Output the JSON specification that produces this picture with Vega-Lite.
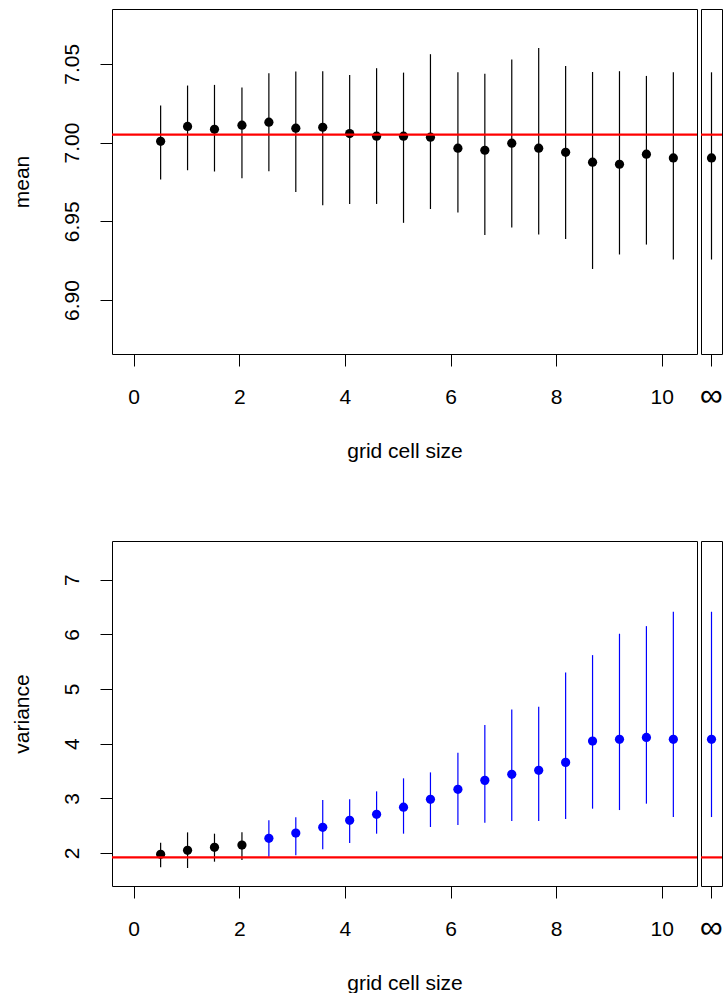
{
  "$schema": "https://vega.github.io/schema/vega-lite/v6.json",
  "padding": {"left": 10, "top": 8, "right": 0, "bottom": 0},
  "background": "white",
  "config": {
    "font": "Liberation Sans",
    "view": {"stroke": "black", "strokeWidth": 1},
    "axis": {
      "grid": false,
      "domain": false,
      "ticks": true,
      "tickColor": "black",
      "tickSize": 12,
      "tickWidth": 1,
      "labelColor": "black",
      "labelFontSize": 21,
      "labelFont": "Liberation Sans",
      "titleColor": "black",
      "titleFontSize": 21,
      "titleFont": "Liberation Sans",
      "titleFontWeight": "normal"
    }
  },
  "datasets": {
    "mean_by_size": [
      {"size": 0.51, "est": 7.0008, "lo": 6.9765, "hi": 7.0235},
      {"size": 1.02, "est": 7.0102, "lo": 6.9824, "hi": 7.0362},
      {"size": 1.53, "est": 7.0084, "lo": 6.9816, "hi": 7.0366},
      {"size": 2.05, "est": 7.011, "lo": 6.9773, "hi": 7.0349},
      {"size": 2.56, "est": 7.0129, "lo": 6.9818, "hi": 7.044},
      {"size": 3.07, "est": 7.0091, "lo": 6.9686, "hi": 7.0451},
      {"size": 3.58, "est": 7.0097, "lo": 6.9602, "hi": 7.0453},
      {"size": 4.09, "est": 7.0057, "lo": 6.961, "hi": 7.0429},
      {"size": 4.6, "est": 7.004, "lo": 6.961, "hi": 7.0472},
      {"size": 5.11, "est": 7.004, "lo": 6.949, "hi": 7.0444},
      {"size": 5.62, "est": 7.0034, "lo": 6.9578, "hi": 7.0561},
      {"size": 6.14, "est": 6.9964, "lo": 6.9555, "hi": 7.0446},
      {"size": 6.65, "est": 6.9951, "lo": 6.9413, "hi": 7.0436},
      {"size": 7.16, "est": 6.9996, "lo": 6.946, "hi": 7.0527},
      {"size": 7.67, "est": 6.9964, "lo": 6.9416, "hi": 7.0601},
      {"size": 8.18, "est": 6.9938, "lo": 6.9388, "hi": 7.0486},
      {"size": 8.69, "est": 6.9875, "lo": 6.9197, "hi": 7.0448},
      {"size": 9.2, "est": 6.9862, "lo": 6.9289, "hi": 7.0453},
      {"size": 9.71, "est": 6.9926, "lo": 6.9352, "hi": 7.0423},
      {"size": 10.22, "est": 6.9902, "lo": 6.9257, "hi": 7.0446}
    ],
    "mean_unbinned": [
      {"size": "∞", "est": 6.9902, "lo": 6.9257, "hi": 7.0446}
    ],
    "mean_truth": [{"value": 7.005}],
    "variance_by_size": [
      {"size": 0.51, "est": 1.976, "lo": 1.739, "hi": 2.19, "excludes_truth": "no"},
      {"size": 1.02, "est": 2.049, "lo": 1.726, "hi": 2.378, "excludes_truth": "no"},
      {"size": 1.53, "est": 2.104, "lo": 1.842, "hi": 2.354, "excludes_truth": "no"},
      {"size": 2.05, "est": 2.146, "lo": 1.872, "hi": 2.378, "excludes_truth": "no"},
      {"size": 2.56, "est": 2.269, "lo": 1.933, "hi": 2.598, "excludes_truth": "yes"},
      {"size": 3.07, "est": 2.366, "lo": 1.958, "hi": 2.653, "excludes_truth": "yes"},
      {"size": 3.58, "est": 2.47, "lo": 2.068, "hi": 2.97, "excludes_truth": "yes"},
      {"size": 4.09, "est": 2.598, "lo": 2.183, "hi": 2.982, "excludes_truth": "yes"},
      {"size": 4.6, "est": 2.708, "lo": 2.354, "hi": 3.128, "excludes_truth": "yes"},
      {"size": 5.11, "est": 2.838, "lo": 2.354, "hi": 3.366, "excludes_truth": "yes"},
      {"size": 5.62, "est": 2.982, "lo": 2.476, "hi": 3.475, "excludes_truth": "yes"},
      {"size": 6.14, "est": 3.165, "lo": 2.512, "hi": 3.835, "excludes_truth": "yes"},
      {"size": 6.65, "est": 3.329, "lo": 2.555, "hi": 4.34, "excludes_truth": "yes"},
      {"size": 7.16, "est": 3.439, "lo": 2.585, "hi": 4.627, "excludes_truth": "yes"},
      {"size": 7.67, "est": 3.512, "lo": 2.585, "hi": 4.676, "excludes_truth": "yes"},
      {"size": 8.18, "est": 3.658, "lo": 2.622, "hi": 5.303, "excludes_truth": "yes"},
      {"size": 8.69, "est": 4.048, "lo": 2.811, "hi": 5.62, "excludes_truth": "yes"},
      {"size": 9.2, "est": 4.079, "lo": 2.786, "hi": 6.011, "excludes_truth": "yes"},
      {"size": 9.71, "est": 4.115, "lo": 2.903, "hi": 6.15, "excludes_truth": "yes"},
      {"size": 10.22, "est": 4.079, "lo": 2.658, "hi": 6.413, "excludes_truth": "yes"}
    ],
    "variance_unbinned": [
      {"size": "∞", "est": 4.079, "lo": 2.658, "hi": 6.413, "excludes_truth": "yes"}
    ],
    "variance_truth": [{"value": 1.92}]
  },
  "spacing": 78,
  "vconcat": [
    {
      "spacing": 0,
      "hconcat": [
        {
          "width": 585,
          "height": 345,
          "data": {"name": "mean_by_size"},
          "layer": [
            {
              "mark": {"type": "rule", "color": "black", "strokeWidth": 1.2},
              "encoding": {
                "x": {"field": "size", "type": "quantitative",
                      "scale": {"domain": [-0.411, 10.668], "nice": false, "zero": false},
                      "axis": {"values": [0, 2, 4, 6, 8, 10], "format": "d", "title": "grid cell size",
                               "labelPadding": 20, "titlePadding": 33, "labelFlush": false}},
                "y": {"field": "lo", "type": "quantitative",
                      "scale": {"domain": [6.8657, 7.0848], "nice": false, "zero": false},
                      "axis": {"values": [6.9, 6.95, 7.0, 7.05], "format": ".2f", "title": "mean",
                               "labelAngle": -90, "labelPadding": 18, "titlePadding": 29}},
                "y2": {"field": "hi"}
              }
            },
            {
              "mark": {"type": "circle", "size": 85, "opacity": 1, "color": "black"},
              "encoding": {
                "x": {"field": "size", "type": "quantitative"},
                "y": {"field": "est", "type": "quantitative"}
              }
            },
            {
              "data": {"name": "mean_truth"},
              "mark": {"type": "rule", "color": "red", "strokeWidth": 2.2},
              "encoding": {"y": {"field": "value", "type": "quantitative"}}
            }
          ]
        },
        {
          "width": 21,
          "height": 345,
          "data": {"name": "mean_unbinned"},
          "layer": [
            {
              "mark": {"type": "rule", "color": "black", "strokeWidth": 1.2},
              "encoding": {
                "x": {"field": "size", "type": "nominal",
                      "scale": {"paddingInner": 0, "paddingOuter": 0},
                      "axis": {"title": null, "labelAngle": 0, "labelFontSize": 32, "labelPadding": 14}},
                "y": {"field": "lo", "type": "quantitative",
                      "scale": {"domain": [6.8657, 7.0848], "nice": false, "zero": false},
                      "axis": null},
                "y2": {"field": "hi"}
              }
            },
            {
              "mark": {"type": "circle", "size": 85, "opacity": 1, "color": "black"},
              "encoding": {
                "x": {"field": "size", "type": "nominal"},
                "y": {"field": "est", "type": "quantitative"}
              }
            },
            {
              "data": {"name": "mean_truth"},
              "mark": {"type": "rule", "color": "red", "strokeWidth": 2.2},
              "encoding": {"y": {"field": "value", "type": "quantitative"}}
            }
          ]
        }
      ]
    },
    {
      "spacing": 0,
      "hconcat": [
        {
          "width": 585,
          "height": 345,
          "data": {"name": "variance_by_size"},
          "layer": [
            {
              "mark": {"type": "rule", "strokeWidth": 1.2},
              "encoding": {
                "x": {"field": "size", "type": "quantitative",
                      "scale": {"domain": [-0.411, 10.668], "nice": false, "zero": false},
                      "axis": {"values": [0, 2, 4, 6, 8, 10], "format": "d", "title": "grid cell size",
                               "labelPadding": 20, "titlePadding": 33, "labelFlush": false}},
                "y": {"field": "lo", "type": "quantitative",
                      "scale": {"domain": [1.397, 7.707], "nice": false, "zero": false},
                      "axis": {"values": [2, 3, 4, 5, 6, 7], "format": "d", "title": "variance",
                               "labelAngle": -90, "labelPadding": 18, "titlePadding": 29}},
                "y2": {"field": "hi"},
                "color": {"field": "excludes_truth", "type": "nominal",
                          "scale": {"domain": ["no", "yes"], "range": ["black", "blue"]}, "legend": null}
              }
            },
            {
              "mark": {"type": "circle", "size": 85, "opacity": 1},
              "encoding": {
                "x": {"field": "size", "type": "quantitative"},
                "y": {"field": "est", "type": "quantitative"},
                "color": {"field": "excludes_truth", "type": "nominal",
                          "scale": {"domain": ["no", "yes"], "range": ["black", "blue"]}, "legend": null}
              }
            },
            {
              "data": {"name": "variance_truth"},
              "mark": {"type": "rule", "color": "red", "strokeWidth": 2.2},
              "encoding": {"y": {"field": "value", "type": "quantitative"}}
            }
          ]
        },
        {
          "width": 21,
          "height": 345,
          "data": {"name": "variance_unbinned"},
          "layer": [
            {
              "mark": {"type": "rule", "strokeWidth": 1.2},
              "encoding": {
                "x": {"field": "size", "type": "nominal",
                      "scale": {"paddingInner": 0, "paddingOuter": 0},
                      "axis": {"title": null, "labelAngle": 0, "labelFontSize": 32, "labelPadding": 14}},
                "y": {"field": "lo", "type": "quantitative",
                      "scale": {"domain": [1.397, 7.707], "nice": false, "zero": false},
                      "axis": null},
                "y2": {"field": "hi"},
                "color": {"field": "excludes_truth", "type": "nominal",
                          "scale": {"domain": ["no", "yes"], "range": ["black", "blue"]}, "legend": null}
              }
            },
            {
              "mark": {"type": "circle", "size": 85, "opacity": 1},
              "encoding": {
                "x": {"field": "size", "type": "nominal"},
                "y": {"field": "est", "type": "quantitative"},
                "color": {"field": "excludes_truth", "type": "nominal",
                          "scale": {"domain": ["no", "yes"], "range": ["black", "blue"]}, "legend": null}
              }
            },
            {
              "data": {"name": "variance_truth"},
              "mark": {"type": "rule", "color": "red", "strokeWidth": 2.2},
              "encoding": {"y": {"field": "value", "type": "quantitative"}}
            }
          ]
        }
      ]
    }
  ]
}
